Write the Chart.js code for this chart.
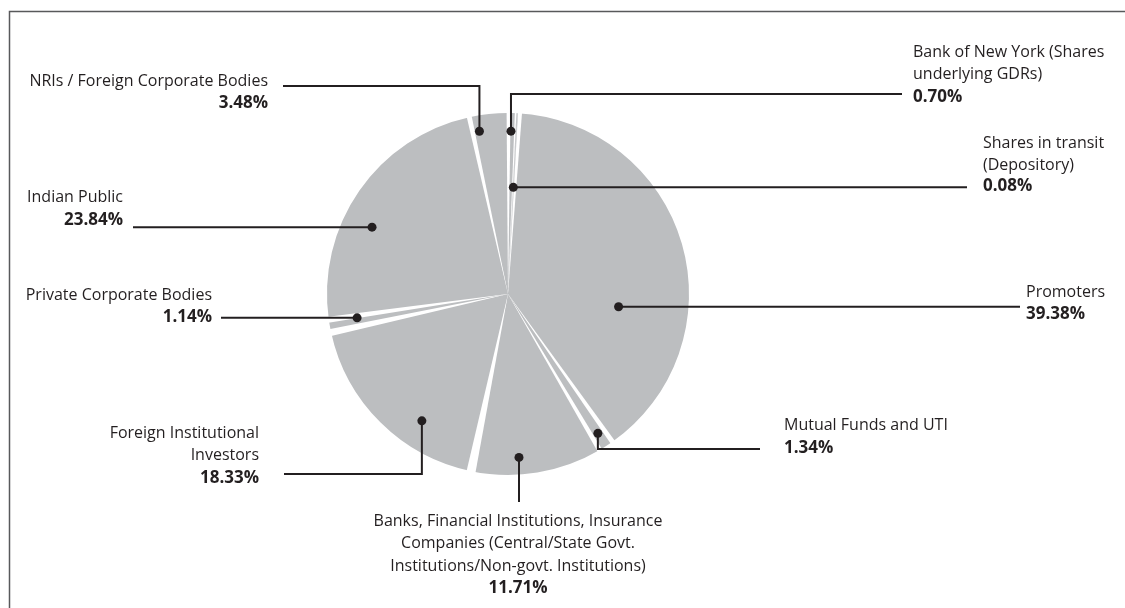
<!DOCTYPE html>
<html>
<head>
<meta charset="utf-8">
<script src="https://cdn.jsdelivr.net/npm/chart.js@4.4.1/dist/chart.umd.min.js"></script>
<style>
  html, body { margin: 0; padding: 0; background: #fff; }
  #wrap { width: 1125px; height: 608px; }
</style>
</head>
<body>
<div id="wrap"><canvas id="chart" width="1125" height="608"></canvas></div>
<script>
// Shareholding pattern (% of total equity)
const categories = [
  'Promoters',
  'Mutual Funds and UTI',
  'Banks, Financial Institutions, Insurance Companies (Central/State Govt. Institutions/Non-govt. Institutions)',
  'Foreign Institutional Investors',
  'Private Corporate Bodies',
  'Indian Public',
  'NRIs / Foreign Corporate Bodies',
  'Bank of New York (Shares underlying GDRs)',
  'Shares in transit (Depository)'
];
const shares = [39.38, 1.34, 11.71, 18.33, 1.14, 23.84, 3.48, 0.70, 0.08];

// wrapped label text, one entry per category
const nameLines = [
  ['Promoters'],
  ['Mutual Funds and UTI'],
  ['Banks, Financial Institutions, Insurance', 'Companies (Central/State Govt.', 'Institutions/Non-govt. Institutions)'],
  ['Foreign Institutional', 'Investors'],
  ['Private Corporate Bodies'],
  ['Indian Public'],
  ['NRIs / Foreign Corporate Bodies'],
  ['Bank of New York (Shares', 'underlying GDRs)'],
  ['Shares in transit', '(Depository)']
];

const INK = '#231f20';
const SLICE = '#bcbec0';

// white wedge between slices, drawn at the start of each slice: [width px at rim, shift px]
const gapStyle = [
  [4, 2.5], [5, 0], [5, 0], [9, 0], [7, 0], [6, 0], [5, 0], [4, 0], [1.5, -1]
];

// leader line + text placement for each slice
// frac: position across the slice angle, k: fraction of radius for the dot
const callouts = [
  { frac: .66, k: .615, route: 'h',  to: 1020, tx: 1026, align: 'left',   y0: 296.5, lh: 22.5 },
  { frac: .5,  k: .916, route: 'vh', turn: 449, to: 760, tx: 784, align: 'left', y0: 429.5, lh: 23 },
  { frac: .63, k: .905, route: 'v',  turn: 502, tx: 518, align: 'center', y0: 526, lh: 22.4 },
  { frac: .34, k: .847, route: 'vh', turn: 474, to: 284, tx: 259, align: 'right', y0: 438, lh: 22.3 },
  { frac: .8,  k: .844, route: 'h',  to: 221, tx: 212, align: 'right',  y0: 299.5, lh: 22.5 },
  { frac: .40, k: .837, route: 'h',  to: 133, tx: 123, align: 'right',  y0: 202, lh: 22.5 },
  { frac: .19, k: .913, route: 'vh', turn: 86, to: 283, tx: 268, align: 'right', y0: 86, lh: 22 },
  { frac: .34, k: .9,   route: 'vh', turn: 94, to: 902, tx: 913, align: 'left', y0: 56.5, lh: 22.5 },
  { frac: .5,  k: .59,  route: 'h',  to: 967, tx: 983, align: 'left',   y0: 148, lh: 21.5 }
];

const frame = {
  id: 'frame',
  beforeDraw(chart) {
    const ctx = chart.ctx;
    ctx.save();
    ctx.strokeStyle = '#58595b';
    ctx.lineWidth = 1.5;
    ctx.beginPath();
    ctx.moveTo(9.5, chart.height);
    ctx.lineTo(9.5, 11.5);
    ctx.lineTo(chart.width, 11.5);
    ctx.stroke();
    ctx.restore();
  }
};

const sliceGaps = {
  id: 'sliceGaps',
  afterDatasetsDraw(chart) {
    const ctx = chart.ctx;
    const arcs = chart.getDatasetMeta(0).data;
    ctx.save();
    ctx.fillStyle = '#fff';
    arcs.forEach((arc, i) => {
      const [w, shift] = gapStyle[i];
      const r = arc.outerRadius;
      const a0 = arc.startAngle + (shift - w / 2) / r;
      const a1 = arc.startAngle + (shift + w / 2) / r;
      const R = r + 4;
      ctx.beginPath();
      ctx.moveTo(arc.x, arc.y);
      ctx.lineTo(arc.x + Math.cos(a0) * R, arc.y + Math.sin(a0) * R);
      ctx.lineTo(arc.x + Math.cos(a1) * R, arc.y + Math.sin(a1) * R);
      ctx.closePath();
      ctx.fill();
    });
    ctx.restore();
  }
};

const leaders = {
  id: 'leaders',
  afterDraw(chart) {
    const ctx = chart.ctx;
    const arcs = chart.getDatasetMeta(0).data;
    ctx.save();
    arcs.forEach((arc, i) => {
      const c = callouts[i];
      const ang = arc.startAngle + c.frac * (arc.endAngle - arc.startAngle);
      const px = arc.x + Math.cos(ang) * arc.outerRadius * c.k;
      const py = arc.y + Math.sin(ang) * arc.outerRadius * c.k;

      ctx.strokeStyle = INK;
      ctx.lineWidth = 2;
      ctx.beginPath();
      ctx.moveTo(px, py);
      if (c.route === 'h') {
        ctx.lineTo(c.to, py);
      } else if (c.route === 'v') {
        ctx.lineTo(px, c.turn);
      } else {
        ctx.lineTo(px, c.turn);
        ctx.lineTo(c.to, c.turn);
      }
      ctx.stroke();

      ctx.fillStyle = INK;
      ctx.beginPath();
      ctx.arc(px, py, 4.5, 0, Math.PI * 2);
      ctx.fill();

      // category name, then the value in bold
      ctx.textAlign = c.align;
      ctx.textBaseline = 'alphabetic';
      ctx.font = '16px "Open Sans"';
      const lines = nameLines[i];
      lines.forEach((t, j) => ctx.fillText(t, c.tx, c.y0 + j * c.lh));
      ctx.font = 'bold 17px "Open Sans"';
      ctx.fillText(shares[i].toFixed(2) + '%', c.tx, c.y0 + lines.length * c.lh);
    });
    ctx.restore();
  }
};

new Chart(document.getElementById('chart'), {
  type: 'pie',
  data: {
    labels: categories,
    datasets: [{
      data: shares,
      backgroundColor: SLICE,
      borderWidth: 0
    }]
  },
  options: {
    responsive: false,
    animation: false,
    devicePixelRatio: 1,
    rotation: 3,
    layout: {
      padding: { left: 327, right: 436, top: 113, bottom: 133 }
    },
    plugins: {
      legend: { display: false },
      tooltip: { enabled: false }
    }
  },
  plugins: [frame, sliceGaps, leaders]
});
</script>
</body>
</html>
